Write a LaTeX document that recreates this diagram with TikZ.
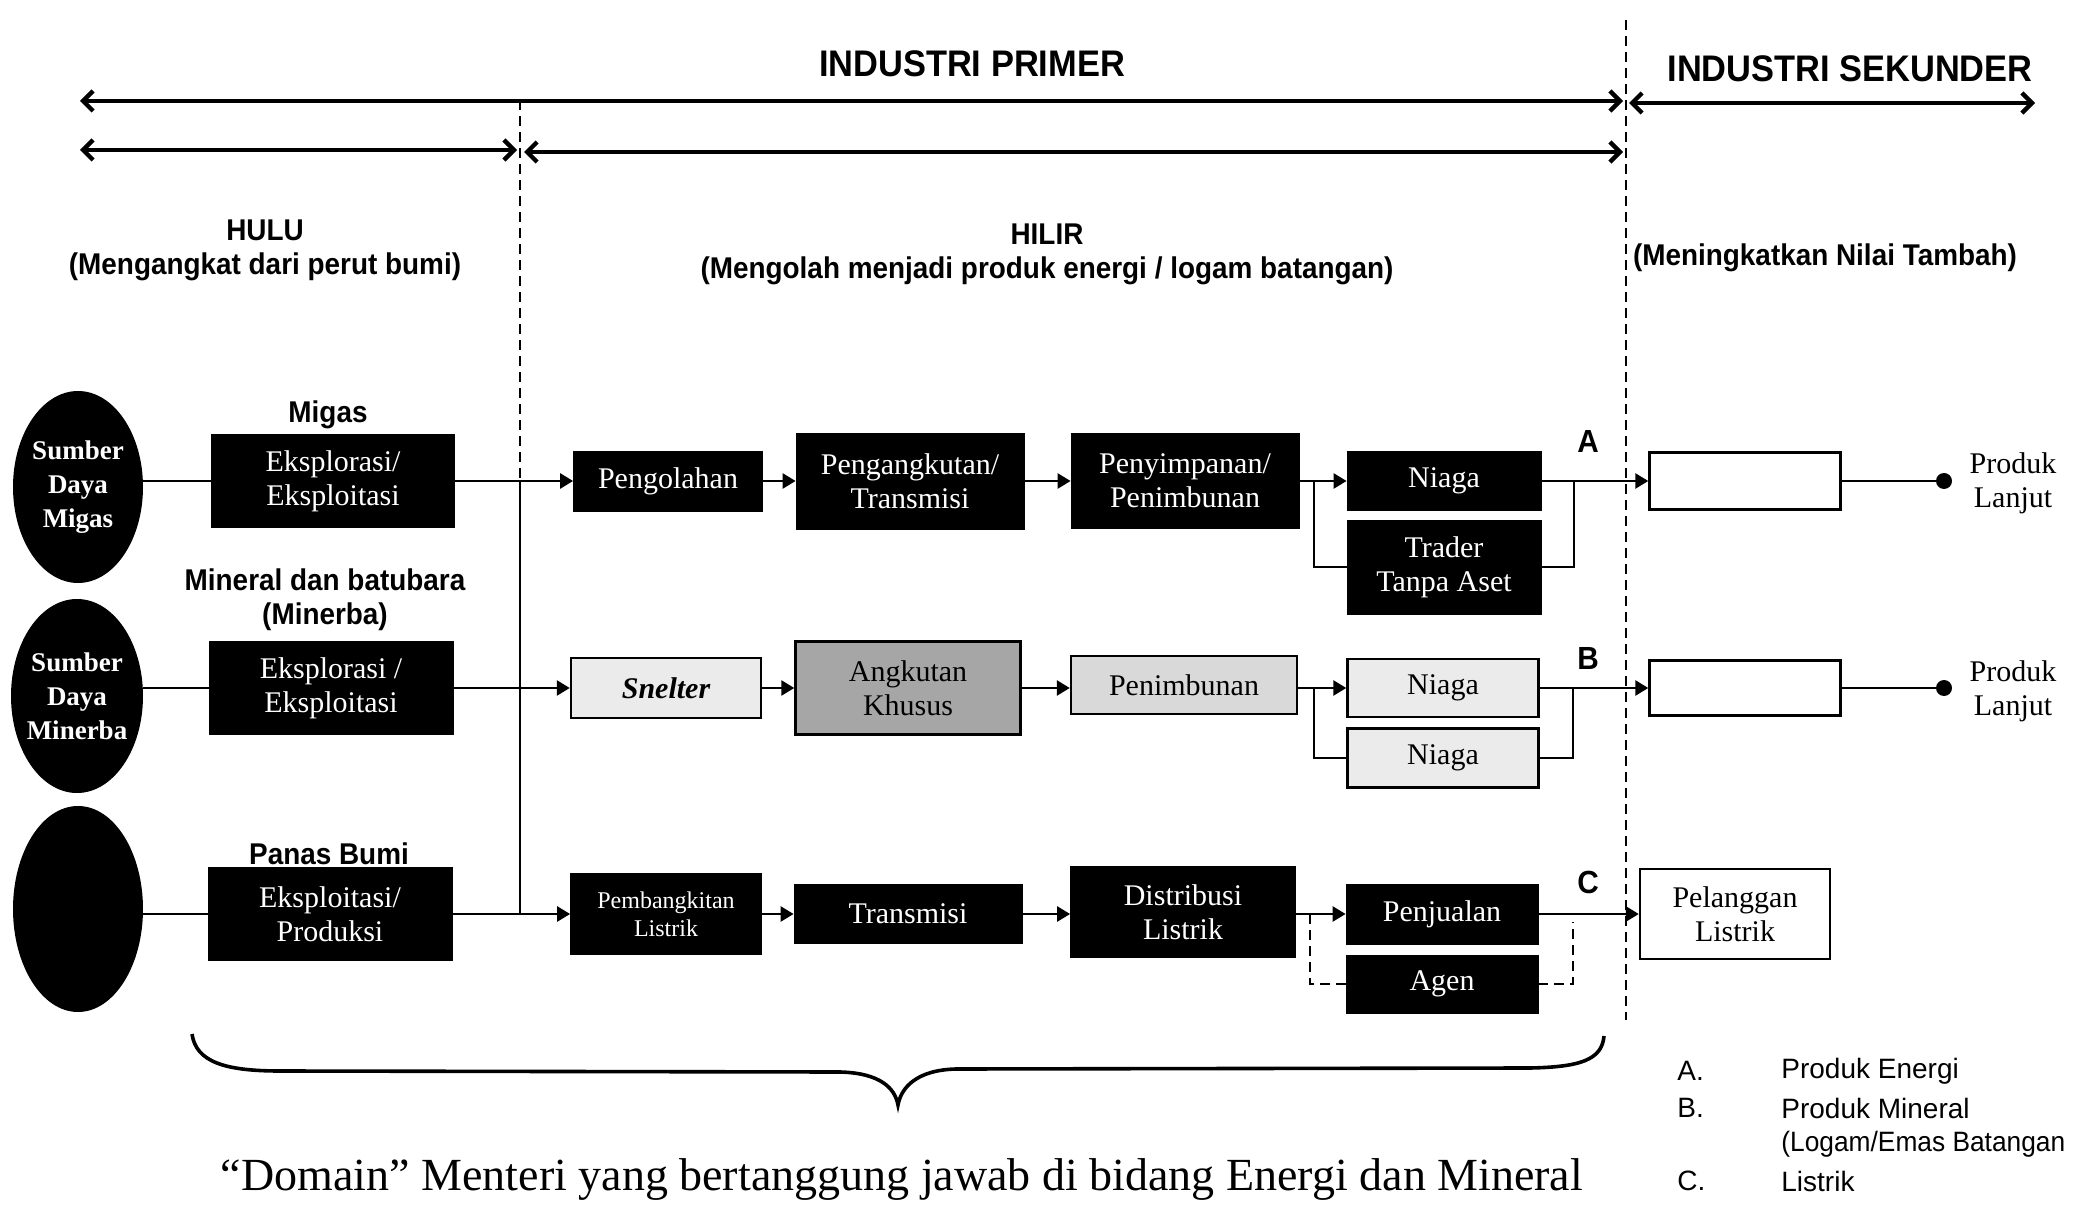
\documentclass[tikz,border=0pt]{standalone}
\usepackage{fontspec}
\setmainfont{Liberation Serif}
\newfontfamily\hsans[FakeStretch=0.93]{Liberation Sans}
\newfontfamily\lsans{Liberation Sans}
\newfontfamily\lsansn[FakeStretch=0.94]{Liberation Sans}
\usetikzlibrary{arrows.meta,shapes.geometric}
\begin{document}
\begin{tikzpicture}[x=0.5pt,y=-0.5pt,
  darkbox/.style={draw=black,fill=black,text=white,inner sep=0pt,align=center,font=\fontsize{15}{17}\selectfont},
  lightbox/.style={draw=black,line width=1.2pt,fill=black!10,inner sep=0pt,align=center,font=\fontsize{15}{17}\selectfont},
  whitebox/.style={draw=black,line width=1.2pt,fill=white,inner sep=0pt,align=center,font=\fontsize{15}{17}\selectfont},
  src/.style={ellipse,fill=black,text=white,inner xsep=-9pt,inner ysep=0pt,align=center,font=\bfseries\fontsize{13.5}{17}\selectfont},
  hdr/.style={font=\hsans\bfseries\fontsize{15}{17}\selectfont,align=center,inner sep=0pt},
  bighdr/.style={font=\hsans\bfseries\fontsize{18.5}{22}\selectfont,inner sep=0pt},
  abc/.style={font=\hsans\bfseries\fontsize{16}{18}\selectfont,inner sep=0pt},
  legtxt/.style={font=\lsans\fontsize{14}{16}\selectfont,inner sep=0pt,anchor=west},
  conn/.style={line width=1.3pt},
  dconn/.style={line width=1.3pt,dash pattern=on 5pt off 3pt},
  arr/.style={line width=1.3pt,-{Triangle[length=6.5pt,width=7.5pt]}},
  spanarr/.style={line width=2.2pt,{Straight Barb[length=5pt,width=10pt]}-{Straight Barb[length=5pt,width=10pt]}},
  vdash/.style={line width=0.9pt,dash pattern=on 5pt off 3pt},
  dotnode/.style={circle,fill=black,inner sep=0pt,minimum size=8pt}
]
\useasboundingbox (0,0) rectangle (2079,1208);

% headers
\node[bighdr] (ip) at (972,64) {INDUSTRI PRIMER};
\node[bighdr] (is) at (1850,69) {INDUSTRI SEKUNDER};
\coordinate (a1l) at (80,101);
\coordinate (a1r) at (1623,101);
\coordinate (a2l) at (1629,103);
\coordinate (a2r) at (2035,103);
\draw[spanarr] (a1l) -- (a1r);
\draw[spanarr] (a2l) -- (a2r);
\coordinate (b1l) at (80,150);
\coordinate (b1r) at (517,150);
\coordinate (b2l) at (524,152);
\coordinate (b2r) at (1623,152);
\draw[spanarr] (b1l) -- (b1r);
\draw[spanarr] (b2l) -- (b2r);

\node[hdr] (hulu) at (265,250) {HULU\\(Mengangkat dari perut bumi)};
\node[hdr] (hilir) at (1047,254) {HILIR\\(Mengolah menjadi produk energi / logam batangan)};
\node[hdr] (nt) at (1825,258) {(Meningkatkan Nilai Tambah)};

% row coordinates
\coordinate (cA) at (520,481);
\coordinate (cB) at (520,688);
\coordinate (cC) at (520,914);
\coordinate (v1t) at (520,100);
\coordinate (v2t) at (1626,20);
\coordinate (v2b) at (1626,1020);
\draw[vdash] (v1t) -- (cA);
\draw[vdash] (v2t) -- (v2b);

% sources
\node[src,minimum width=65pt,minimum height=96pt] (e1) at (78,487) {Sumber\\Daya\\Migas};
\node[src,minimum width=66pt,minimum height=97pt] (e2) at (77,696) {Sumber\\Daya\\Minerba};
\node[src,minimum width=65pt,minimum height=103pt] (e3) at (78,909) {};

% hulu
\node[hdr] (lmig) at (328,415) {Migas};
\node[hdr] (lmin) at (325,600) {Mineral dan batubara\\(Minerba)};
\node[hdr] (lpb) at (329,854) {Panas Bumi};
\node[darkbox,minimum width=121.5pt,minimum height=46.5pt] (h1) at (333,481) {Eksplorasi/\\Eksploitasi};
\node[darkbox,minimum width=122pt,minimum height=46.5pt] (h2) at (331,688) {Eksplorasi /\\Eksploitasi};
\node[darkbox,minimum width=122pt,minimum height=46.5pt] (h3) at (330,914) {Eksploitasi/\\Produksi};

% row A
\node[darkbox,minimum width=94.5pt,minimum height=30pt] (p1) at (668,481) {Pengolahan};
\node[darkbox,minimum width=114pt,minimum height=48pt] (p2) at (910,481) {Pengangkutan/\\Transmisi};
\node[darkbox,minimum width=114pt,minimum height=47.5pt] (p3) at (1185,481) {Penyimpanan/\\Penimbunan};
\node[darkbox,minimum width=97pt,minimum height=29.5pt] (n1) at (1444,481) {Niaga};
\node[darkbox,minimum width=97pt,minimum height=47pt] (t1) at (1444,567) {Trader\\Tanpa Aset};
\node[whitebox,minimum width=95.5pt,minimum height=28.5pt] (s1) at (1745,481) {};
\node[dotnode] (d1) at (1944,481) {};
\node[font=\fontsize{15}{17}\selectfont,align=center,inner sep=0pt] (pl1) at (2013,483) {Produk\\Lanjut};
\node[abc] (la) at (1588,441) {A};

% row B
\node[lightbox,fill=black!8,minimum width=95pt,minimum height=30pt,font=\bfseries\itshape\fontsize{15}{17}\selectfont] (q1) at (666,688) {Snelter};
\node[lightbox,fill=black!35,minimum width=112.5pt,minimum height=46.5pt] (q2) at (908,688) {Angkutan\\Khusus};
\node[lightbox,fill=black!15,minimum width=113pt,minimum height=29pt] (q3) at (1184,685) {Penimbunan};
\node[lightbox,fill=black!8,minimum width=95.5pt,minimum height=29pt] (n2) at (1443,688) {Niaga};
\node[lightbox,fill=black!8,minimum width=95.5pt,minimum height=29.5pt] (n3) at (1443,758) {Niaga};
\node[whitebox,minimum width=95.5pt,minimum height=27.5pt] (s2) at (1745,688) {};
\node[dotnode] (d2) at (1944,688) {};
\node[font=\fontsize{15}{17}\selectfont,align=center,inner sep=0pt] (pl2) at (2013,691) {Produk\\Lanjut};
\node[abc] (lb) at (1588,658) {B};

% row C
\node[darkbox,minimum width=95.5pt,minimum height=40.5pt,font=\fontsize{12}{14}\selectfont] (r1) at (666,914) {Pembangkitan\\Listrik};
\node[darkbox,minimum width=114pt,minimum height=29.5pt] (r2) at (908,914) {Transmisi};
\node[darkbox,minimum width=112.5pt,minimum height=45.5pt] (r3) at (1183,912) {Distribusi\\Listrik};
\node[darkbox,minimum width=96pt,minimum height=30pt] (r4) at (1442,914) {Penjualan};
\node[darkbox,minimum width=96pt,minimum height=29pt] (r5) at (1442,984) {Agen};
\node[whitebox,minimum width=95pt,minimum height=45pt] (r6) at (1735,914) {Pelanggan\\Listrik};
\node[abc] (lc) at (1588,882) {C};

% hulu connectors
\draw[conn] (h1.west) -- (h1.west -| e1.east);
\draw[conn] (h2.west) -- (h2.west -| e2.east);
\draw[conn] (h3.west) -- (h3.west -| e3.east);
\draw[conn] (h1.east) -- (cA);
\draw[conn] (h2.east) -- (cB);
\draw[conn] (h3.east) -- (cC);
\draw[conn] (cA) -- (cC);
\draw[arr] (cA) -- (p1.west);
\draw[arr] (cB) -- (q1.west);
\draw[arr] (cC) -- (r1.west);

% row A connectors
\draw[arr] (p1) -- (p2);
\draw[arr] (p2) -- (p3);
\draw[arr] (p3) -- (n1);
\coordinate (brA) at (1314,481);
\coordinate (mA) at (1574,481);
\draw[conn] (brA) |- (t1.west);
\draw[conn] (t1.east) -| (mA);
\draw[arr] (n1) -- (s1);
\draw[conn] (s1) -- (d1);

% row B connectors
\draw[arr] (q1) -- (q2);
\draw[arr] (q2) -- (q3.west |- q2);
\draw[arr] (q3.east |- n2) -- (n2);
\coordinate (brB) at (1314,688);
\coordinate (mB) at (1573,688);
\draw[conn] (brB) |- (n3.west);
\draw[conn] (n3.east) -| (mB);
\draw[arr] (n2) -- (s2);
\draw[conn] (s2) -- (d2);

% row C connectors
\draw[arr] (r1) -- (r2);
\draw[arr] (r2) -- (r3.west |- r2);
\draw[arr] (r3.east |- r4) -- (r4);
\coordinate (brC) at (1310,914);
\coordinate (mC) at (1573,922);
\draw[dconn] (brC) |- (r5.west);
\draw[dconn] (r5.east) -| (mC);
\draw[arr] (r4) -- (r6);

% brace
\draw[line width=1.8pt] (192,1034) .. controls (196,1062) and (225,1071) .. (280,1071) -- (840,1072) .. controls (880,1073) and (895,1088) .. (898,1105) .. controls (901,1088) and (916,1070) .. (956,1069) -- (1530,1068) .. controls (1580,1067) and (1602,1060) .. (1604,1036);

\node[font=\fontsize{23}{27}\selectfont,inner sep=0pt] (cap) at (902,1180) {“Domain” Menteri yang bertanggung jawab di bidang Energi dan Mineral};

% legend
\node[legtxt] (lga) at (1677,1071) {A.};
\node[legtxt] (lgat) at (1781,1071) {Produk Energi};
\node[legtxt] (lgb) at (1677,1108) {B.};
\node[legtxt] (lgbt) at (1781,1108) {Produk Mineral};
\node[legtxt,font=\lsansn\fontsize{14}{16}\selectfont] (lgbt2) at (1781,1144) {(Logam/Emas Batangan};
\node[legtxt] (lgc) at (1677,1181) {C.};
\node[legtxt] (lgct) at (1781,1181) {Listrik};
\end{tikzpicture}
\end{document}
